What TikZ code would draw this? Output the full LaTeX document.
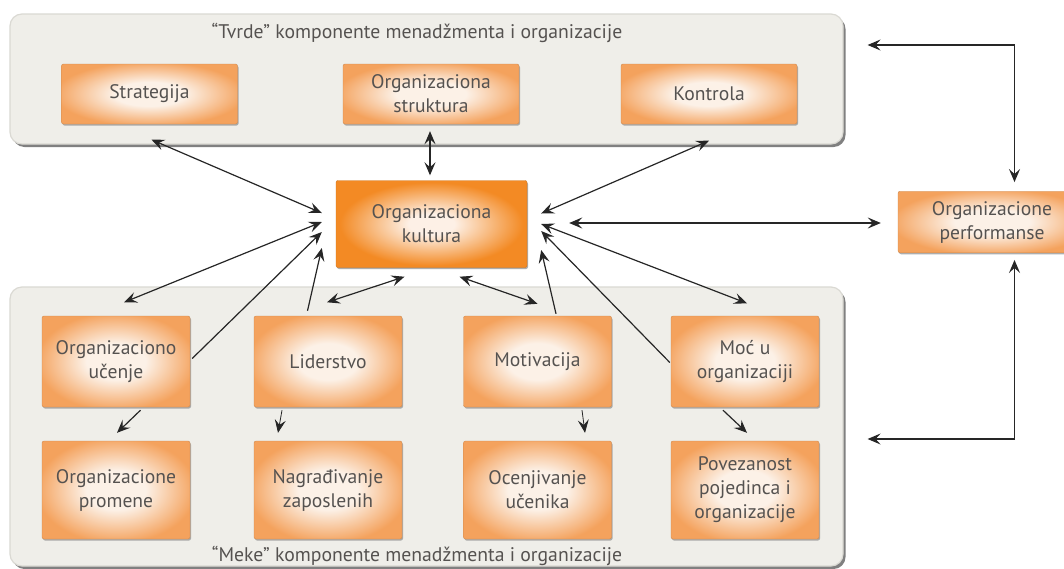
\documentclass[tikz,border=0pt]{standalone}
\usepackage{fontspec}
\setmainfont{PT Sans}
\usetikzlibrary{arrows.meta,calc,shadows}

\definecolor{txt}{HTML}{555250}
\definecolor{panelFill}{HTML}{EFEEE9}
\definecolor{panelLine}{HTML}{DAD9D3}
\definecolor{boxEdge}{HTML}{F4A25D}
\definecolor{boxMid}{HTML}{FCF1E7}
\definecolor{cultEdge}{HTML}{F38A24}
\definecolor{cultMid}{HTML}{FDF0E6}

\pgfdeclareradialshading{boxshade}{\pgfpoint{0bp}{0bp}}{%
  color(0bp)=(boxMid); color(10bp)=(boxMid); color(27bp)=(boxEdge); color(50bp)=(boxEdge)}
\pgfdeclareradialshading{cultshade}{\pgfpoint{0bp}{0bp}}{%
  color(0bp)=(cultMid); color(6bp)=(cultMid); color(24bp)=(cultEdge); color(50bp)=(cultEdge)}

\newcommand\boxfont{\fontsize{19.6}{24}\selectfont}
\newcommand\titlefont{\fontsize{19.7}{22}\selectfont}

\begin{document}
\begin{tikzpicture}[x=1pt,y=-1pt,
  panel/.style={draw=panelLine, line width=1.2pt, rounded corners=12pt,
    fill=panelFill, inner sep=0pt,
    drop shadow={shadow xshift=2.5pt, shadow yshift=-3pt, fill=black!50, opacity=1}},
  obox/.style={rounded corners=2pt, shade, shading=boxshade,
    draw=boxEdge!85!black, line width=0.4pt,
    drop shadow={shadow xshift=1pt, shadow yshift=-1.5pt, fill=black!40, opacity=.8},
    align=center, text=txt, font=\boxfont, inner sep=2pt,
    minimum width=148, minimum height=91},
  topbox/.style={obox, minimum width=176, minimum height=60},
  lowbox/.style={obox, minimum height=98},
  cultbox/.style={obox, shading=cultshade, draw=cultEdge!85!black,
    minimum width=191, minimum height=87},
  ttl/.style={text=txt, font=\titlefont, inner sep=0pt},
  con/.style={line width=1.2pt, draw=black!85},
  tip/.tip={Stealth[length=13pt,width=11pt,inset=5pt]},
  >=tip
]
\useasboundingbox (0,0) rectangle (1064,568);
\fill[white] (0,0) rectangle (1064,568);

% the two grey panels
\node[panel, minimum width=833, minimum height=130] (hard) at (426.5,79) {};
\node[panel, minimum width=833, minimum height=279] (soft) at (426.5,426.5) {};
\node[ttl] (hardT) at (417,33) {“Tvrde” komponente menadžmenta i organizacije};
\node[ttl] (softT) at (417,556) {“Meke” komponente menadžmenta i organizacije};

% hard components
\node[topbox] (strat) at (149.5,94) {Strategija};
\node[topbox] (struk) at (431,94) {Organizaciona\\struktura};
\node[topbox] (kontr) at (709,94) {Kontrola};

% culture and performance
\node[cultbox] (kult) at (431.5,224) {Organizaciona\\kultura};
\node[obox, minimum width=188, minimum height=61.5] (perf) at (992,222) {Organizacione\\performanse};

% soft components, first row
\node[obox] (ucenje) at (116,361.5) {Organizaciono\\učenje};
\node[obox] (lider) at (328,361.5) {Liderstvo};
\node[obox] (motiv) at (537.5,361.5) {Motivacija};
\node[obox] (moc) at (745,361.5) {Moć u\\organizaciji};

% soft components, second row
\node[lowbox] (promene) at (116,490) {Organizacione\\promene};
\node[lowbox] (nagr) at (328,490) {Nagrađivanje\\zaposlenih};
\node[lowbox] (ocenj) at (537.5,490) {Ocenjivanje\\učenika};
\node[lowbox] (povez) at (745,490) {Povezanost\\pojedinca i\\organizacije};

% hard components <-> culture
\draw[con,<->] ($(strat.south)+(2,15.5)$) -- ($(kult.west)+(-14,-11)$);
\draw[con,<->] ($(struk.south)+(-1,7)$) -- ($(kult.north)+(-1.5,-5)$);
\draw[con,<->] ($(kontr.south)+(0,16.5)$) -- ($(kult.east)+(14,-10.5)$);

% culture <-> performance, and the feedback loops
\draw[con,<->] ($(kult.east)+(42,-1)$) -- ($(perf.west)+(-17,1)$);
\draw[con,<->] ($(perf.north)+(22.5,-9)$) |- ($(hard.east)+(24,-34)$);
\draw[con,<->] ($(perf.south)+(22.5,7)$) |- ($(soft.east)+(24,12.5)$);

% soft components <-> culture
\draw[con,<->] ($(ucenje.north)+(8,-13.5)$) -- ($(kult.west)+(-14,-2)$);
\draw[con,->] ($(ucenje.east)+(2,-3)$) -- ($(kult.west)+(-14,8)$);
\draw[con,->] ($(lider.north)+(-20.5,-5)$) -- ($(kult.west)+(-14,24)$);
\draw[con,<->] ($(lider.north)+(-1,-13.5)$) -- ($(kult.south)+(-27,9)$);
\draw[con,<->] ($(kult.south)+(28,9)$) -- ($(motiv.north)+(0,-12)$);
\draw[con,->] ($(motiv.north)+(18.5,-2)$) -- ($(kult.east)+(14,26)$);
\draw[con,->] ($(moc.west)+(-1,1)$) -- ($(kult.east)+(14,7)$);
\draw[con,<->] ($(kult.east)+(14,0)$) -- ($(moc.north)+(2,-12.5)$);

% first row -> second row
\draw[con,->] ($(ucenje.south)+(24.5,3)$) -- ($(promene.north)+(1,-8)$);
\draw[con,->,line width=0.8pt] ($(lider.south)+(-46,3)$) -- ($(nagr.north)+(-50,-8)$);
\draw[con,->,line width=0.8pt] ($(motiv.south)+(44.5,3)$) -- ($(ocenj.north)+(47.5,-8)$);
\draw[con,->] ($(moc.south)+(-22,3)$) -- ($(povez.north)+(2,-8)$);
\end{tikzpicture}
\end{document}
